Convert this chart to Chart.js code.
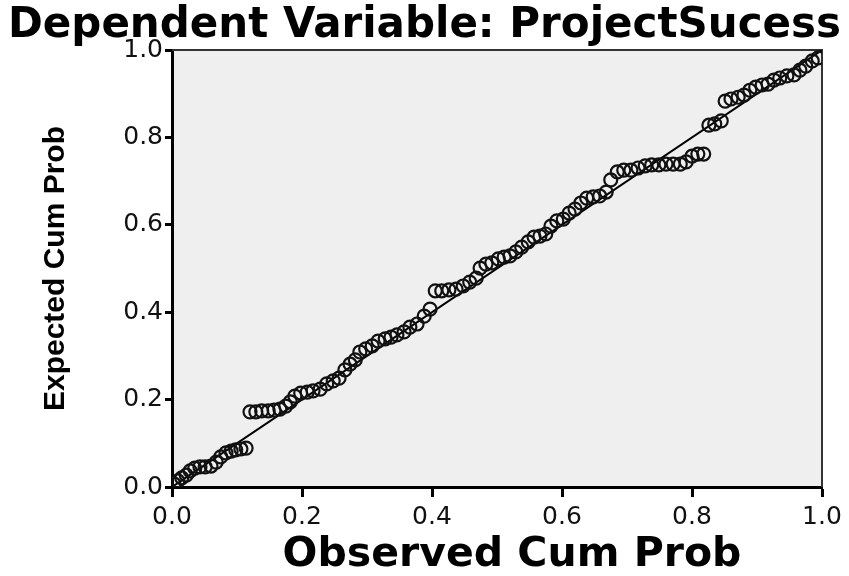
<!DOCTYPE html>
<html><head><meta charset="utf-8">
<script src="https://cdn.jsdelivr.net/npm/chart.js@4.4.0/dist/chart.umd.min.js"></script>
<style>html,body{margin:0;padding:0;background:#fff;}</style>
</head><body>
<canvas id="c" width="849" height="576"></canvas>
<script>
const titleText = 'Dependent Variable: ProjectSucess';
const xTitle = 'Observed Cum Prob';
const yTitle = 'Expected Cum Prob';
const tickValues = [0, 0.2, 0.4, 0.6, 0.8, 1.0];
const refLine = [0, 1];
const observed = [0.003,0.009,0.015,0.022,0.028,0.035,0.043,0.051,0.060,0.068,0.075,0.083,0.091,0.098,0.106,0.114,
  0.120,0.129,0.138,0.148,0.157,0.166,0.175,0.182,0.189,0.198,0.208,0.217,0.228,0.238,0.248,0.257,0.266,0.274,0.282,0.289,
  0.298,0.308,0.317,0.328,0.337,0.346,0.357,0.366,0.377,0.388,0.397,0.405,0.415,0.426,0.437,0.448,0.458,0.468,0.474,0.483,
  0.492,0.502,0.511,0.520,0.529,0.538,0.548,0.557,0.566,0.575,0.583,0.592,0.602,0.611,0.620,0.629,0.638,0.648,0.658,0.668,
  0.675,0.685,0.695,0.706,0.717,0.728,0.738,0.749,0.760,0.771,0.782,0.791,0.800,0.809,0.818,0.826,0.835,0.845,0.851,0.860,
  0.871,0.880,0.889,0.898,0.908,0.917,0.926,0.935,0.946,0.957,0.966,0.975,0.985,0.994];
const expected = [0.007,0.014,0.021,0.027,0.037,0.043,0.046,0.046,0.048,0.057,0.069,0.078,0.082,0.085,0.087,0.089,
  0.172,0.172,0.174,0.174,0.176,0.178,0.185,0.195,0.208,0.215,0.217,0.220,0.224,0.236,0.243,0.249,0.268,0.281,0.291,0.309,
  0.316,0.323,0.334,0.339,0.343,0.348,0.355,0.366,0.373,0.391,0.407,0.449,0.449,0.451,0.453,0.460,0.469,0.478,0.501,0.510,
  0.513,0.522,0.526,0.529,0.538,0.549,0.561,0.572,0.574,0.579,0.597,0.609,0.613,0.627,0.636,0.650,0.661,0.664,0.666,0.675,
  0.703,0.721,0.725,0.725,0.730,0.735,0.737,0.737,0.739,0.739,0.739,0.744,0.757,0.762,0.762,0.828,0.831,0.838,0.883,0.888,
  0.892,0.897,0.908,0.915,0.920,0.922,0.931,0.936,0.941,0.943,0.954,0.963,0.975,0.982];

const points = observed.map((x, i) => ({x: x, y: expected[i]}));
const diag = refLine.map(v => ({x: v, y: v}));

const framePlugin = {
  id: 'frame',
  beforeDraw(chart) {
    const {ctx, chartArea: a} = chart;
    ctx.save();
    ctx.fillStyle = '#efefef';
    ctx.fillRect(a.left, a.top, a.right - a.left, a.bottom - a.top);
    ctx.restore();
  },
  beforeDatasetsDraw(chart) {
    const {ctx, chartArea: a} = chart;
    ctx.save();
    ctx.strokeStyle = '#333';
    ctx.lineWidth = 2;
    ctx.beginPath();
    ctx.moveTo(a.left, a.top);
    ctx.lineTo(a.right, a.top);
    ctx.lineTo(a.right, a.bottom);
    ctx.stroke();
    ctx.restore();
  },
  afterDraw(chart) {
    const {ctx, chartArea: a} = chart;
    const xs = chart.scales.x;
    ctx.save();
    ctx.fillStyle = '#000';
    ctx.font = 'bold 41px "DejaVu Sans"';
    ctx.textAlign = 'center';
    ctx.textBaseline = 'middle';
    ctx.fillText(xTitle, (a.left + a.right) / 2 + 15, xs.bottom - 21);
    ctx.restore();
  }
};

const tickFont = {family: 'DejaVu Sans', size: 25};
function setTicks(scale) { scale.ticks = tickValues.map(v => ({value: v})); }

new Chart(document.getElementById('c'), {
  data: {
    datasets: [
      {type: 'line', data: diag, borderColor: '#000', borderWidth: 2, pointRadius: 0, fill: false, order: 2},
      {type: 'scatter', data: points, pointRadius: 6.5, pointHoverRadius: 6.5, borderWidth: 2.2,
       pointBorderColor: '#111', pointBackgroundColor: 'rgba(0,0,0,0)', order: 1}
    ]
  },
  options: {
    responsive: false,
    animation: false,
    devicePixelRatio: 1,
    layout: {padding: {left: 0, right: 0, top: 0, bottom: 0}},
    plugins: {
      legend: {display: false},
      tooltip: {enabled: false},
      title: {display: true, text: titleText, color: '#000',
        font: {family: 'DejaVu Sans', size: 42, weight: 'bold', lineHeight: 1.12},
        padding: {top: 3, bottom: 0}}
    },
    scales: {
      x: {
        type: 'linear', position: 'bottom', min: 0, max: 1,
        afterBuildTicks: setTicks,
        afterFit: s => { s.height = 89; },
        grid: {drawOnChartArea: false, drawTicks: true, tickLength: 10, tickColor: '#000', tickWidth: 3},
        border: {display: true, color: '#000', width: 3},
        ticks: {color: '#111', font: tickFont, padding: 5, maxRotation: 0, callback: v => Number(v).toFixed(1)},
        title: {display: false, text: xTitle}
      },
      y: {
        type: 'linear', position: 'left', min: 0, max: 1,
        afterBuildTicks: setTicks,
        afterFit: s => { s.width = 172; },
        grid: {drawOnChartArea: false, drawTicks: true, tickLength: 7, tickColor: '#000', tickWidth: 3},
        border: {display: true, color: '#000', width: 3},
        ticks: {color: '#111', font: tickFont, padding: 2, callback: v => Number(v).toFixed(1)},
        title: {display: true, text: yTitle, color: '#000',
          font: {family: 'Liberation Sans', size: 30, weight: 'bold', lineHeight: 1.2},
          padding: {top: 38, bottom: 0}}
      },
      yRight: {
        type: 'linear', position: 'right', min: 0, max: 1, display: true,
        afterFit: s => { s.width = 27; },
        grid: {display: false, drawTicks: false},
        border: {display: false},
        ticks: {display: false}
      }
    }
  },
  plugins: [framePlugin]
});
</script>
</body></html>
